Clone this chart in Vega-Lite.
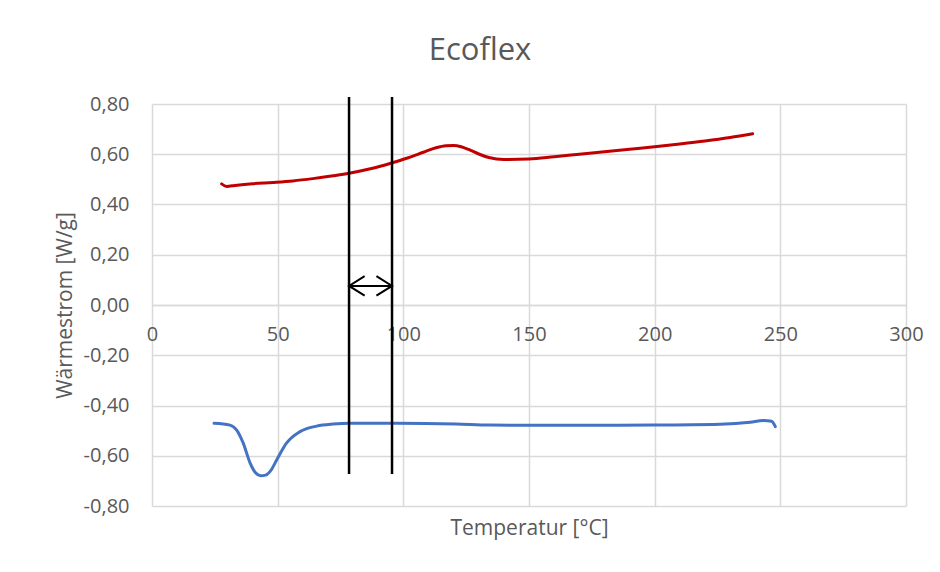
{
  "$schema": "https://vega.github.io/schema/vega-lite/v6.json",
  "width": 754,
  "height": 402,
  "autosize": {"type": "none"},
  "padding": {"left": 152, "top": 104, "right": 34, "bottom": 66},
  "background": "white",
  "config": {
    "locale": {"number": {"decimal": ",", "thousands": ".", "grouping": [3], "currency": ["", " €"], "minus": "-"}},
    "view": {"stroke": null},
    "font": "Open Sans"
  },
  "title": {
    "text": "Ecoflex",
    "fontSize": 31,
    "fontWeight": "normal",
    "color": "#595959",
    "anchor": "middle",
    "dx": -49,
    "offset": 27
  },
  "datasets": {
    "curves": [
      {"series": "Heizen", "T": 27.7, "W": 0.482},
      {"series": "Heizen", "T": 29.7, "W": 0.472},
      {"series": "Heizen", "T": 33, "W": 0.476},
      {"series": "Heizen", "T": 40, "W": 0.483},
      {"series": "Heizen", "T": 48, "W": 0.488},
      {"series": "Heizen", "T": 56, "W": 0.494},
      {"series": "Heizen", "T": 64, "W": 0.503},
      {"series": "Heizen", "T": 72, "W": 0.514},
      {"series": "Heizen", "T": 78.4, "W": 0.524},
      {"series": "Heizen", "T": 86, "W": 0.54},
      {"series": "Heizen", "T": 92, "W": 0.555},
      {"series": "Heizen", "T": 96, "W": 0.567},
      {"series": "Heizen", "T": 102, "W": 0.586},
      {"series": "Heizen", "T": 108, "W": 0.608},
      {"series": "Heizen", "T": 113, "W": 0.626},
      {"series": "Heizen", "T": 117, "W": 0.634},
      {"series": "Heizen", "T": 120, "W": 0.635},
      {"series": "Heizen", "T": 123, "W": 0.63},
      {"series": "Heizen", "T": 126, "W": 0.619},
      {"series": "Heizen", "T": 130, "W": 0.601},
      {"series": "Heizen", "T": 134, "W": 0.587},
      {"series": "Heizen", "T": 140, "W": 0.579},
      {"series": "Heizen", "T": 150, "W": 0.581},
      {"series": "Heizen", "T": 160, "W": 0.59},
      {"series": "Heizen", "T": 170, "W": 0.6},
      {"series": "Heizen", "T": 180, "W": 0.61},
      {"series": "Heizen", "T": 190, "W": 0.62},
      {"series": "Heizen", "T": 200, "W": 0.63},
      {"series": "Heizen", "T": 210, "W": 0.641},
      {"series": "Heizen", "T": 220, "W": 0.653},
      {"series": "Heizen", "T": 230, "W": 0.667},
      {"series": "Heizen", "T": 239, "W": 0.682},
      {"series": "Kuehlen", "T": 24.7, "W": -0.471},
      {"series": "Kuehlen", "T": 31, "W": -0.478},
      {"series": "Kuehlen", "T": 33.7, "W": -0.498},
      {"series": "Kuehlen", "T": 36.3, "W": -0.55},
      {"series": "Kuehlen", "T": 39, "W": -0.628},
      {"series": "Kuehlen", "T": 41.2, "W": -0.668},
      {"series": "Kuehlen", "T": 43.2, "W": -0.68},
      {"series": "Kuehlen", "T": 45.2, "W": -0.677},
      {"series": "Kuehlen", "T": 47.3, "W": -0.658},
      {"series": "Kuehlen", "T": 49.6, "W": -0.617},
      {"series": "Kuehlen", "T": 53.5, "W": -0.55},
      {"series": "Kuehlen", "T": 58.9, "W": -0.504},
      {"series": "Kuehlen", "T": 65.5, "W": -0.482},
      {"series": "Kuehlen", "T": 72.1, "W": -0.474},
      {"series": "Kuehlen", "T": 78.8, "W": -0.471},
      {"series": "Kuehlen", "T": 97.4, "W": -0.471},
      {"series": "Kuehlen", "T": 121, "W": -0.474},
      {"series": "Kuehlen", "T": 134.5, "W": -0.478},
      {"series": "Kuehlen", "T": 160, "W": -0.479},
      {"series": "Kuehlen", "T": 200, "W": -0.478},
      {"series": "Kuehlen", "T": 226, "W": -0.475},
      {"series": "Kuehlen", "T": 238, "W": -0.467},
      {"series": "Kuehlen", "T": 243.2, "W": -0.46},
      {"series": "Kuehlen", "T": 246.5, "W": -0.463},
      {"series": "Kuehlen", "T": 248, "W": -0.484}
    ],
    "bounds": [
      {"T": 78.4, "top": 0.828, "bottom": -0.673},
      {"T": 95.5, "top": 0.828, "bottom": -0.673}
    ],
    "arrow": [
      {"from": 78.4, "to": 95.5, "W": 0.076}
    ],
    "heads": [
      {"T": 78.4, "W": 0.076, "dir": "left"},
      {"T": 95.5, "W": 0.076, "dir": "right"}
    ]
  },
  "layer": [
    {
      "data": {"name": "curves"},
      "mark": {"type": "line", "strokeWidth": 3, "strokeCap": "round", "strokeJoin": "round", "interpolate": "monotone", "clip": false},
      "encoding": {
        "x": {
          "field": "T", "type": "quantitative",
          "scale": {"domain": [0, 300], "nice": false, "zero": true},
          "axis": {
            "values": [0, 50, 100, 150, 200, 250, 300],
            "title": "Temperatur [°C]",
            "titleFont": "Open Sans",
            "titleFontSize": 21,
            "titleFontWeight": "normal",
            "titleColor": "#595959",
            "titleY": 212,
            "titleBaseline": "top",
            "offset": -201,
            "domain": true,
            "domainColor": "#d9d9d9",
            "domainWidth": 1.5,
            "ticks": false,
            "labelPadding": 19,
            "labelFontSize": 20,
            "labelColor": "#595959",
            "labelFont": "Open Sans",
            "labelOverlap": false,
            "labelFlush": false,
            "grid": true,
            "gridColor": "#d9d9d9",
            "gridWidth": 1.5
          }
        },
        "y": {
          "field": "W", "type": "quantitative",
          "scale": {"domain": [-0.8, 0.8], "nice": false, "zero": false},
          "axis": {
            "values": [-0.8, -0.6, -0.4, -0.2, 0, 0.2, 0.4, 0.6, 0.8],
            "format": ".2f",
            "title": "Wärmestrom [W/g]",
            "titleFont": "Open Sans",
            "titleFontSize": 21,
            "titleFontWeight": "normal",
            "titleColor": "#595959",
            "titlePadding": 8,
            "domain": false,
            "ticks": false,
            "labelPadding": 23,
            "labelFontSize": 20,
            "labelColor": "#595959",
            "labelFont": "Open Sans",
            "labelOverlap": false,
            "grid": true,
            "gridColor": "#d9d9d9",
            "gridWidth": 1.5
          }
        },
        "color": {
          "field": "series", "type": "nominal",
          "scale": {"domain": ["Heizen", "Kuehlen"], "range": ["#c00000", "#4472c4"]},
          "legend": null
        }
      }
    },
    {
      "data": {"name": "bounds"},
      "mark": {"type": "rule", "color": "black", "strokeWidth": 2.5, "clip": false},
      "encoding": {
        "x": {"field": "T", "type": "quantitative"},
        "y": {"field": "top", "type": "quantitative"},
        "y2": {"field": "bottom"}
      }
    },
    {
      "data": {"name": "arrow"},
      "mark": {"type": "rule", "color": "black", "strokeWidth": 2},
      "encoding": {
        "x": {"field": "from", "type": "quantitative"},
        "x2": {"field": "to"},
        "y": {"field": "W", "type": "quantitative"}
      }
    },
    {
      "data": {"name": "heads"},
      "mark": {"type": "point", "filled": false, "stroke": "black", "strokeWidth": 2, "size": 380, "opacity": 1},
      "encoding": {
        "x": {"field": "T", "type": "quantitative"},
        "y": {"field": "W", "type": "quantitative"},
        "shape": {
          "field": "dir", "type": "nominal",
          "scale": {"domain": ["left", "right"], "range": ["M 1.6 -1 L 0 0 L 1.6 1", "M -1.6 -1 L 0 0 L -1.6 1"]},
          "legend": null
        }
      }
    }
  ]
}
